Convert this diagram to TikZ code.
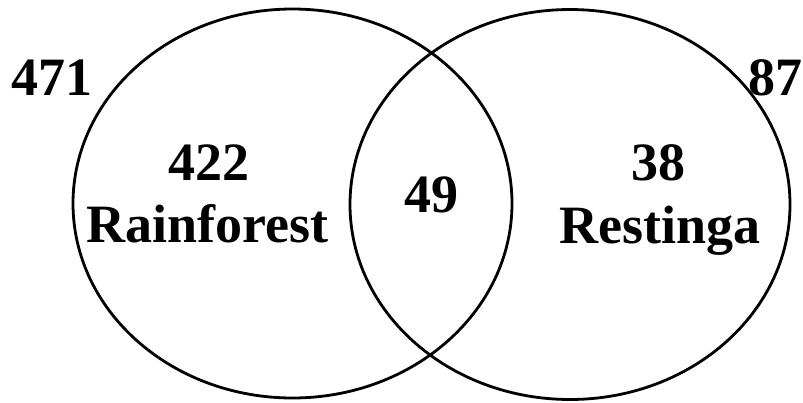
\documentclass[tikz,border=0pt]{standalone}
\usepackage{fontspec}
\setmainfont{Liberation Serif}
\begin{document}
\begin{tikzpicture}[x=1pt,y=-1pt,
  lbl/.style={anchor=base,inner sep=0pt,font=\bfseries\fontsize{54}{62}\selectfont},
  venn/.style={draw=black,line width=2.8pt}]
\useasboundingbox (0,0) rectangle (803,402);
\draw[venn] (292.5,203.5) ellipse [x radius=219.5, y radius=194.5];
\draw[venn] (570,204.5) ellipse [x radius=220, y radius=195];
\node[lbl] (tot1) at (52.5,95) {471};
\node[lbl] (tot2) at (775.5,95) {87};
\node[lbl] (n1) at (209,180) {422};
\node[lbl] (r1) at (207.5,242) {Rainforest};
\node[lbl] (n2) at (431.5,212) {49};
\node[lbl] (n3) at (658,180) {38};
\node[lbl] (r2) at (660,243) {Restinga};
\end{tikzpicture}
\end{document}
